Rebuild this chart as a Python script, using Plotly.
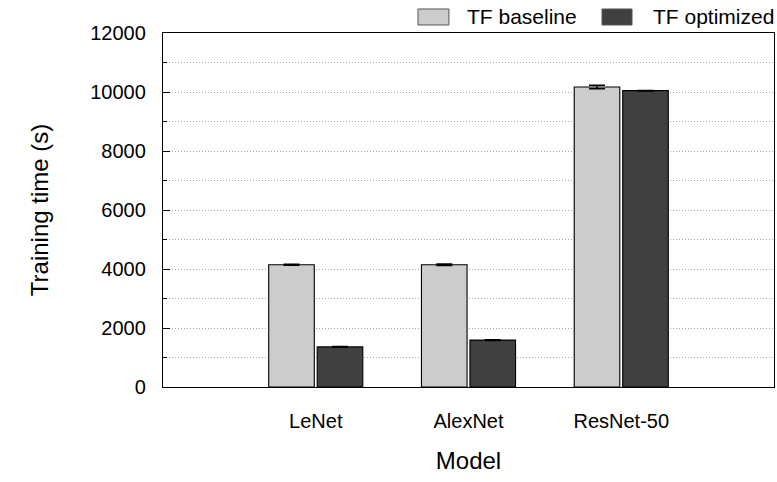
import plotly.graph_objects as go

models = ["LeNet", "AlexNet", "ResNet-50"]
series_names = ["TF baseline", "TF optimized"]
baseline = [4145, 4145, 10170]
baseline_err = [20, 25, 60]
optimized = [1360, 1590, 10045]
optimized_err = [15, 12, 10]
y_ticks = [0, 2000, 4000, 6000, 8000, 10000, 12000]
y_tick_labels = ["0", "2000", "4000", "6000", "8000", "10000", "12000"]
colors = ["#cccccc", "#404040"]

FONT = "Liberation Sans, Arial, Helvetica, sans-serif"
GRID = "#a8a8a8"

fig = go.Figure()
for name, vals, errs, col in zip(series_names, [baseline, optimized],
                                 [baseline_err, optimized_err], colors):
    fig.add_trace(go.Bar(
        x=models, y=vals, name=name,
        marker=dict(color=col, line=dict(color="#000000", width=1.1)),
        error_y=dict(type="data", array=errs, color="#000000",
                     thickness=1.5, width=8),
        showlegend=False,
    ))

fig.update_layout(
    width=777, height=482,
    margin=dict(l=163, r=3, t=33, b=95),
    paper_bgcolor="white", plot_bgcolor="white",
    barmode="group", bargap=0.365, bargroupgap=0.06,
    font=dict(family=FONT, size=21, color="#000000"),
    xaxis=dict(
        range=[-1, 3], showline=True, mirror=True, linecolor="#000000",
        linewidth=1.3, ticks="", showgrid=False, zeroline=False,
        tickfont=dict(size=20), ticklabelstandoff=16,
        title=dict(text="Model", font=dict(size=24), standoff=21),
    ),
    yaxis=dict(
        range=[0, 12000], tickvals=y_ticks, ticktext=y_tick_labels,
        showline=True, mirror=True,
        linecolor="#000000", linewidth=1.3, ticks="inside", ticklen=7,
        tickcolor="#000000", tickwidth=1.3,
        showgrid=True, gridcolor=GRID, griddash="1px,2px", gridwidth=1,
        zeroline=False, tickfont=dict(size=20), ticklabelstandoff=12,
        minor=dict(dtick=1000, tick0=0, ticks="inside", ticklen=4,
                   tickcolor="#000000", showgrid=True, gridcolor=GRID,
                   griddash="1px,2px", gridwidth=1),
        title=dict(text="Training time (s)", font=dict(size=24), standoff=34),
    ),
)

# custom legend swatches and labels (above plot area, right)
legend_items = [
    (0.4173, 0.468, 0.4943),
    (0.7185, 0.7676, 0.7987),
]
for (x0, x1, xt), name, col in zip(legend_items, series_names, colors):
    fig.add_shape(type="rect", xref="paper", yref="paper",
                  x0=x0, x1=x1, y0=1.0226, y1=1.0678,
                  fillcolor=col, line=dict(color="#555555", width=1))
    fig.add_annotation(xref="paper", yref="paper", x=xt, y=1.0452,
                       text=name, showarrow=False, xanchor="left",
                       yanchor="middle", font=dict(size=21))

fig.write_html("out.html")
